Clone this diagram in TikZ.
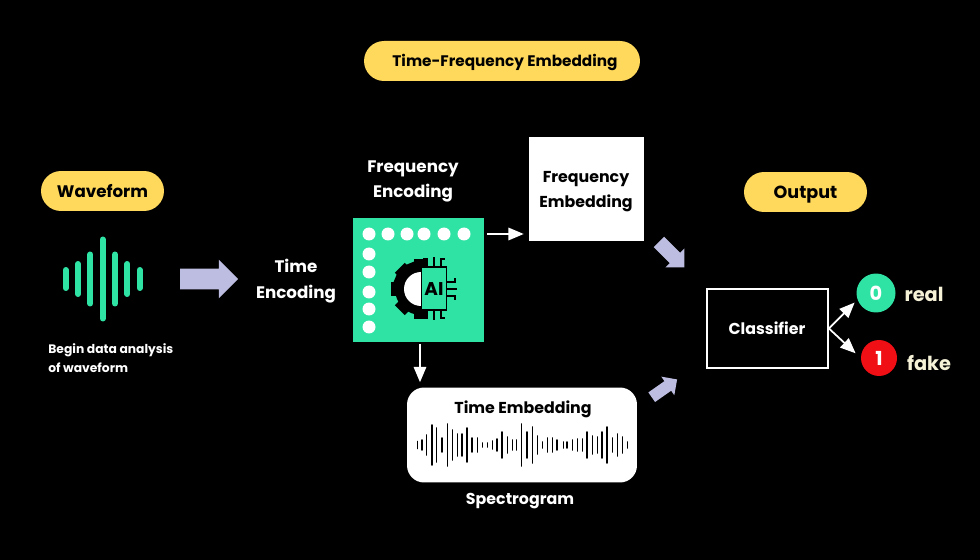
\documentclass[tikz,border=0pt]{standalone}
\usepackage{fontspec}
\setmainfont{Poppins}
\usetikzlibrary{arrows,shapes.arrows}
\definecolor{pillyellow}{HTML}{FFD95C}
\definecolor{mintgreen}{HTML}{2FE3A5}
\definecolor{lavender}{HTML}{BDBDE2}
\definecolor{alarmred}{HTML}{F00F14}
\definecolor{cream}{HTML}{F6F2D8}
\tikzset{
  pill/.style={fill=pillyellow,rounded corners=0.4cm,minimum height=0.8cm,inner sep=0pt,text=black,font=\fontsize{9.5}{11}\selectfont\bfseries},
  lbl/.style={text=white,inner sep=0pt,font=\fontsize{9}{11}\selectfont\bfseries},
  biglbl/.style={text=white,inner sep=0pt,font=\fontsize{9.5}{11}\selectfont\bfseries},
  dark/.style={text=black,inner sep=0pt,font=\fontsize{9}{11}\selectfont\bfseries},
  blockarrow/.style={single arrow,fill=lavender,inner xsep=0pt,single arrow tip angle=90},
  link/.style={draw=white,line width=1pt,-triangle 45},
  bit/.style={circle,inner sep=0pt,text=white,font=\fontsize{11}{12}\selectfont\bfseries}
}
\begin{document}
\begin{tikzpicture}[x=0.02cm,y=-0.02cm]
  \fill[black] (0,0) rectangle (980,560);
  \useasboundingbox (0,0) rectangle (980,560);

  \node[pill,minimum width=5.52cm,font=\fontsize{8.7}{11}\selectfont\bfseries] (tfpill) at (502,61) {\hspace*{0.12cm}\raisebox{-0.02cm}[\height][\depth]{Time-Frequency Embedding}};
  \node[pill,minimum width=2.46cm] (wavepill) at (102.5,191) {Waveform};
  \node[pill,minimum width=2.46cm,font=\fontsize{10}{11}\selectfont\bfseries] (outpill) at (805.5,192) {\raisebox{-0.06cm}[\height][\depth]{Output}};

  \foreach \x/\h in {65.7/12,78/18,90.3/27.5,102.7/42.5,115/27.5,127.3/18,139.7/12}
    \draw[mintgreen,line width=0.12cm,line cap=round] (\x,279-\h+3) -- (\x,279+\h-3);
  \node[lbl,anchor=west,font=\fontsize{7}{9}\selectfont\bfseries] (beginline) at (48,350) {Begin data analysis};
  \node[lbl,anchor=west,font=\fontsize{7}{9}\selectfont\bfseries] (ofline) at (48,368) {of waveform};

  \node[blockarrow,inner ysep=0.2cm,single arrow head extend=0.18cm,minimum height=1.16cm] (wavearrow) at (204,279) {};
  \node[biglbl] (timeenc1) at (296,266) {Time};
  \node[biglbl] (timeenc2) at (296,294) {Encoding};
  \node[biglbl] (freqenc1) at (413,168.5) {Frequency};
  \node[biglbl] (freqenc2) at (413,193) {Encoding};

  \node[fill=mintgreen,draw=none,minimum width=2.62cm,minimum height=2.48cm,inner sep=0pt] (encoder) at (418.5,280) {};
  \foreach \x in {369,388,407,424,444,464}
    \fill[white] (\x,234) circle (0.13cm);
  \foreach \y in {254,272,292,309,327}
    \fill[white] (369,\y) circle (0.13cm);
  \fill[black] (421,263) arc[start angle=90,end angle=270,radius=0.52cm] -- cycle;
  \foreach \a in {90,135,180,225,270}
    \fill[black,rotate around={\a:(421,289)}] (443,282) rectangle (451,296);
  \fill[black,rotate around={112:(421,289)}] (443,283) rectangle (449,295);
  \fill[black,rotate around={158:(421,289)}] (443,283) rectangle (449,295);
  \fill[white] (421,272) arc[start angle=90,end angle=270,radius=0.34cm] -- cycle;
  \draw[black,line width=0.8pt] (434,267) -- (434,257);
  \draw[black,line width=0.8pt] (434,310) -- (434,320);
  \draw[black,line width=0.8pt] (447,289) -- (457,289);
  \draw[black,line width=0.8pt] (427,267) -- (427,259) -- (423,259);
  \draw[black,line width=0.8pt] (441,267) -- (441,259) -- (445,259);
  \draw[black,line width=0.8pt] (427,310) -- (427,318) -- (423,318);
  \draw[black,line width=0.8pt] (441,310) -- (441,318) -- (445,318);
  \draw[black,line width=0.8pt] (447,282) -- (455,282) -- (455,278);
  \draw[black,line width=0.8pt] (447,296) -- (455,296) -- (455,300);
  \draw[black,line width=1.1pt,fill=mintgreen] (421.5,267) rectangle (446.5,310);
  \node[text=black,inner sep=0pt,font=\fontsize{10.5}{12}\selectfont\bfseries] (ailabel) at (434,289) {AI};

  \node[fill=white,minimum width=2.3cm,minimum height=2.1cm,inner sep=0pt] (freqbox) at (586.5,189.5) {};
  \draw[black,line width=0.4pt] (529,241) -- (644,241);
  \node[dark] (freqemb1) at (586,179) {Frequency};
  \node[dark] (freqemb2) at (586,203) {Embedding};

  \node[fill=white,rounded corners=0.34cm,minimum width=4.6cm,minimum height=1.9cm,inner sep=0pt] (timebox) at (522,435) {};
  \node[dark] (timeemb) at (523,409) {Time Embedding};
  \foreach \x/\h in {417.5/3.5,421.7/5,426.5/10,432/20,436.5/17,442/7,447.5/21,452.5/15,457.5/11,462/11,467/17,472/7,477.5/7,482.5/2,487.5/2,492.5/4,497/6,502/13,507.5/8,512.5/5,516.5/5,521.5/21,527/13,532.5/18,537.5/9,542.5/3,547.5/7,552.5/7,557/5,563.5/3,567/3,572.5/5,577.5/6,582.5/6,587/13,592.5/9,597.5/8,602/13,607/18,612.5/7,617.5/11,622.5/8,627.5/3}
    \draw[black,line width=1.1pt,line cap=round] (\x,445-\h) -- (\x,445+\h);
  \node[lbl] (spectro) at (520,501) {Spectrogram};

  \draw[link,shorten <=0.06cm,shorten >=0.1cm] (encoder.east |- 0,234) -- (freqbox.west |- 0,234);
  \draw[link,shorten <=0.04cm,shorten >=0.1cm] ([xshift=0.03cm]encoder.south) -- ([xshift=0.03cm]encoder.south |- timebox.north);

  \node[blockarrow,rotate=-45,inner ysep=0.14cm,single arrow head extend=0.12cm,minimum height=0.72cm] (toparrow) at (669,252) {};
  \node[blockarrow,rotate=35,inner ysep=0.11cm,single arrow head extend=0.11cm,minimum height=0.62cm] (lowarrow) at (662,390) {};

  \node[draw=white,line width=1.1pt,minimum width=2.42cm,minimum height=1.58cm,inner sep=0pt] (classifier) at (767.5,328.5) {};
  \node[lbl] (classlabel) at (767,328) {Classifier};
  \node[bit,fill=mintgreen,minimum size=0.78cm] (bitzero) at (876,293) {0};
  \node[bit,fill=alarmred,minimum size=0.72cm] (bitone) at (879,358) {1};
  \node[text=cream,inner sep=0pt,font=\fontsize{11}{12}\selectfont\bfseries] (reallabel) at (924,294) {real};
  \node[text=cream,inner sep=0pt,font=\fontsize{11}{12}\selectfont\bfseries] (fakelabel) at (929,363) {fake};
  \draw[link,shorten >=0.08cm] (classifier.east) -- (bitzero.200);
  \draw[link,shorten >=0.14cm] (classifier.east) -- (bitone.180);
\end{tikzpicture}
\end{document}
